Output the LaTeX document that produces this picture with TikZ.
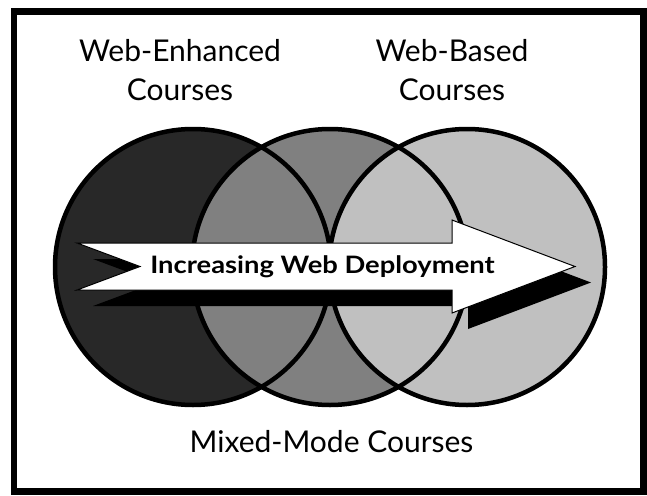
\documentclass[tikz,border=0pt]{standalone}
\usepackage{fontspec}
\setmainfont{Lato}
\newfontfamily\arrowfont{Lato}[FakeStretch=1.14]
\definecolor{darkc}{HTML}{282828}
\definecolor{midc}{HTML}{808080}
\definecolor{lightc}{HTML}{C0C0C0}
\begin{document}
\begin{tikzpicture}[x=1pt,y=-1pt,
  ring/.style={draw=black,line width=4.5pt},
  label/.style={font=\fontsize{30}{39}\selectfont,align=center,anchor=base,inner sep=0pt},
  arrowlab/.style={font=\arrowfont\fontsize{24}{27}\bfseries\selectfont,anchor=base,inner sep=0pt},
  arrowbody/.style={fill=white,draw=black,line width=1pt,line join=miter}]
\useasboundingbox (0,0) rectangle (647,495);
\fill[white] (0,0) rectangle (647,495);
\draw[line width=6.7pt] (14,11.3) rectangle (643.6,491.8);
\coordinate (L) at (193,267);
\coordinate (M) at (330,267);
\coordinate (R) at (467,267);
\fill[darkc] (L) circle (138);
\fill[midc] (M) circle (138);
\fill[lightc] (R) circle (138);
\draw[ring] (L) circle (138);
\draw[ring] (M) circle (138);
\draw[ring] (R) circle (138);
% shadow
\fill[black] (93,259) -- (468,259) -- (468,236) -- (591,282.5) -- (468,329) -- (468,306) -- (93,306) -- (156,282.5) -- cycle;
% arrow
\draw[arrowbody] (77,243) -- (452,243) -- (452,220) -- (575,266.5) -- (452,313) -- (452,290) -- (77,290) -- (140,266.5) -- cycle;
\node[arrowlab] (inc) at (322.5,273) {Increasing Web Deployment};
\node[label] (we) at (180,100) {Web-Enhanced\\Courses};
\node[label] (wb) at (452,100) {Web-Based\\Courses};
\node[label] (mm) at (331.5,452) {Mixed-Mode Courses};
\end{tikzpicture}
\end{document}
